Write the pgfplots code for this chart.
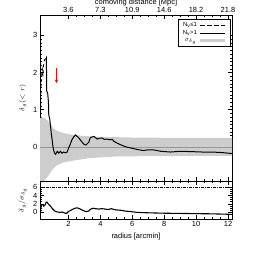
\documentclass[border=0pt]{standalone}
\usepackage{pgfplots}
\pgfplotsset{compat=1.18}
\usepackage{fontspec}
\setmainfont{Liberation Sans}
\usetikzlibrary{arrows.meta}
\definecolor{bandgray}{RGB}{205,205,205}
\definecolor{zerogray}{RGB}{150,150,150}
\begin{document}
\fontsize{7.5}{9}\selectfont
\begin{tikzpicture}
\useasboundingbox (0,0) rectangle (258bp,258bp);
\pgfplotsset{
 every axis/.append style={
  scale only axis, width=192bp, xmin=0.22, xmax=12.25,
  tick align=inside, xtick pos=both, ytick pos=both,
  major tick length=4bp, minor tick length=2bp,
  tick style={black, line width=0.4pt},
  /pgf/number format/assume math mode=true,
  tick label style={font=\fontsize{7.5}{9}\selectfont},
  label style={font=\fontsize{7.5}{9}\selectfont},
  axis line style={line width=0.5pt},
  xtick={2,4,6,8,10,12}, minor x tick num=3,
 }
}
% ---------- top panel ----------
\begin{axis}[
  at={(40bp,77bp)}, anchor=south west, height=166bp,
  ymin=-0.92, ymax=3.55,
  ytick={0,1,2,3}, minor y tick num=9,
  xticklabel pos=upper,
  xticklabels={3.6,7.3,10.9,14.6,18.2,21.8},
  xlabel={comoving distance [Mpc]},
  every axis x label/.style={at={(axis description cs:0.5,1)}, anchor=south, inner sep=0pt, yshift=8.5bp},
  ylabel={$\delta_g(<r)$},
  every axis y label/.style={at={(axis description cs:-0.09,0.5)}, rotate=90, anchor=center},
  legend plot pos=right, legend cell align=right,
  legend image code/.code={\draw[#1] (0bp,0bp) -- (25bp,0bp);},
  legend style={at={(axis description cs:0.99,0.975)}, anchor=north east,
    font=\fontsize{6}{7}\selectfont, draw=black, line width=0.4pt,
    inner xsep=3pt, inner ysep=1.5pt, row sep=-1.2pt},
]
% band
\addplot[fill=bandgray, draw=none, forget plot] coordinates {
 (0.22,0.80) (0.5,0.78) (0.7,0.70) (0.9,0.60) (1.05,0.50) (1.3,0.43) (1.7,0.37)
 (2.2,0.33) (3.0,0.29) (4.0,0.27) (6.0,0.25) (9.0,0.24) (12.25,0.24)
 (12.25,-0.24) (7.0,-0.25) (5.0,-0.26) (3.4,-0.30) (2.3,-0.37) (1.7,-0.42)
 (1.3,-0.49) (0.98,-0.62) (0.77,-0.76) (0.6,-0.85) (0.45,-0.95) (0.22,-1.2)
} -- cycle;
\addplot[zerogray, line width=0.6pt, forget plot] coordinates {(0.22,0) (12.25,0)};
% N<=1 dashed
\addplot[black, line width=1pt, dashed, forget plot] coordinates {
 (0.24,0.78) (0.27,1.5) (0.30,2.05) (0.36,2.1) (0.40,1.9) (0.43,2.15) (0.47,2.3) (0.52,2.35) (0.56,2.35)
};
% N>1 solid
\addplot[black, line width=1pt, forget plot] coordinates {
 (0.56,2.35) (0.62,2.4) (0.64,1.5) (0.70,1.45) (0.75,1.2) (0.77,0.85) (0.83,0.75)
 (0.88,0.55) (0.93,0.35) (0.98,0.2) (1.03,0.0) (1.08,-0.1) (1.15,-0.18) (1.2,-0.2)
 (1.3,-0.12) (1.4,-0.17) (1.5,-0.12) (1.6,-0.17) (1.7,-0.14) (1.8,-0.16) (1.9,-0.15)
 (2.0,-0.05) (2.1,0.05) (2.2,0.17) (2.3,0.25) (2.44,0.32) (2.55,0.28) (2.65,0.24)
 (2.85,0.13) (3.0,0.06) (3.1,0.05) (3.27,0.12) (3.37,0.24) (3.5,0.27) (3.6,0.28)
 (3.8,0.21) (3.95,0.23) (4.1,0.24) (4.25,0.2) (4.4,0.21) (4.6,0.19) (4.75,0.2)
 (4.85,0.15) (5.05,0.1) (5.3,0.05) (5.6,0.0) (5.9,-0.03) (6.3,-0.07) (6.7,-0.1)
 (7.0,-0.08) (7.3,-0.08) (7.8,-0.12) (8.4,-0.14) (9.0,-0.12) (9.8,-0.13)
 (10.4,-0.14) (10.9,-0.14) (11.5,-0.15) (12.0,-0.17) (12.25,-0.18)
};
\addlegendimage{black, line width=0.6pt, dash pattern=on 4.5pt off 2.5pt}
\addlegendentry{N\textsubscript{v}≤1}
\addlegendimage{black, line width=0.6pt}
\addlegendentry{N\textsubscript{v}>1}
\addlegendimage{bandgray, line width=3pt}
\addlegendentry{$\sigma_{\delta_g}$}
\draw[red, line width=0.8pt, -{Stealth[length=3.5bp,width=3.5bp]}] (axis cs:1.25,2.12) -- (axis cs:1.25,1.72);
\end{axis}
% ---------- bottom panel ----------
\begin{axis}[
  at={(40bp,39bp)}, anchor=south west, height=38bp,
  ymin=-1.7, ymax=7.5,
  ytick={0,2,4,6}, minor y tick num=3,
  xlabel={radius [arcmin]},
  every axis x label/.style={at={(axis description cs:0.5,0)}, anchor=north, yshift=-11bp},
  ylabel={$\delta_g/\sigma_{\delta_g}$},
  every axis y label/.style={at={(axis description cs:-0.09,0.5)}, rotate=90, anchor=center},
]
\addplot[black, line width=0.6pt, dash pattern=on 3pt off 1pt on 1pt off 1pt] coordinates {(0.22,6) (12.25,6)};
\addplot[black, line width=1pt, dashed] coordinates {
 (0.28,1.0) (0.33,1.8) (0.38,2.0) (0.45,1.4) (0.52,1.6)
};
\addplot[black, line width=1.1pt] coordinates {
 (0.52,1.6) (0.6,2.3) (0.65,2.4) (0.75,1.9) (0.9,1.3) (1.0,0.8) (1.1,0.4) (1.2,0.1)
 (1.4,-0.05) (1.5,-0.1) (1.6,0.0) (1.8,-0.3) (1.9,-0.3) (2.0,0.1) (2.2,0.5) (2.4,0.9)
 (2.55,1.0) (2.7,0.8) (2.9,0.4) (3.1,0.1) (3.25,0.2) (3.4,0.7) (3.55,0.9) (3.7,0.8)
 (3.9,0.7) (4.1,0.8) (4.3,0.7) (4.5,0.6) (4.7,0.8) (4.85,0.6) (5.0,0.5) (5.3,0.4)
 (5.6,0.2) (5.9,0.1) (6.3,-0.1) (7,-0.2) (8,-0.3) (9,-0.35) (10,-0.4) (11,-0.45)
 (12,-0.55) (12.25,-0.6)
};
\end{axis}
\end{tikzpicture}
\end{document}
